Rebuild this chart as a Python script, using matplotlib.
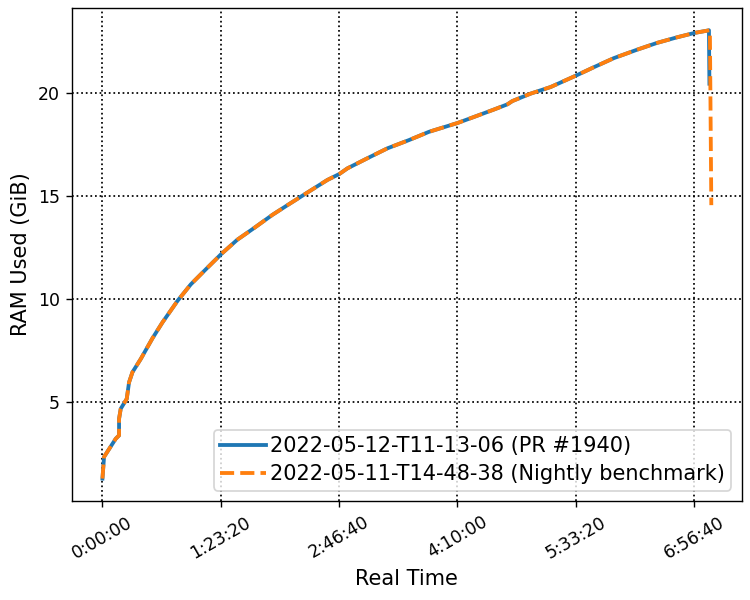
import datetime
import matplotlib
matplotlib.use("Agg")
import matplotlib.pyplot as plt
from matplotlib.ticker import FuncFormatter, MultipleLocator

# Shared ramp (seconds, GiB)
t_common = [0, 68, 562, 702, 702, 773, 1027, 1125, 1268, 1619, 2113, 2536, 3170,
            3732, 4438, 5030, 5706, 6408, 7185, 7959, 8733, 9510, 10017, 10355,
            11200, 12046, 12959, 13804, 15017, 15706, 16551, 17118, 17329, 18102,
            18948, 19510, 20034, 20777, 21623, 22611, 23457, 24302, 25034, 25570]
v_common = [1.31, 2.36, 3.24, 3.40, 4.20, 4.69, 5.17, 5.97, 6.46, 7.10, 8.10, 8.87, 9.91,
            10.71, 11.52, 12.19, 12.88, 13.44, 14.08, 14.65, 15.21, 15.77, 16.06, 16.33,
            16.82, 17.30, 17.70, 18.10, 18.53, 18.82, 19.18, 19.43, 19.59, 19.95,
            20.27, 20.56, 20.83, 21.23, 21.67, 22.08, 22.41, 22.68, 22.89, 23.00]

# Tails
t_pr_tail = [25640, 25660]
v_pr_tail = [23.02, 20.43]
t_nightly_tail = [25680, 25740]
v_nightly_tail = [23.02, 14.55]

label_pr = "2022-05-12-T11-13-06 (PR #1940)"
label_nightly = "2022-05-11-T14-48-38 (Nightly benchmark)"

t_pr = t_common + t_pr_tail
v_pr = v_common + v_pr_tail
t_n = t_common + t_nightly_tail
v_n = v_common + v_nightly_tail

fig = plt.figure(figsize=(6, 4.8), dpi=125)
ax = fig.add_axes([0.096, 0.165, 0.893, 0.822])
ax.plot(t_pr, v_pr, color="#1f77b4", lw=2.2, label=label_pr)
ax.plot(t_n, v_n, color="#ff7f0e", lw=2.2, ls="--", label=label_nightly)

ax.xaxis.set_major_locator(MultipleLocator(5000))
ax.xaxis.set_major_formatter(FuncFormatter(lambda x, p: str(datetime.timedelta(seconds=int(round(x))))))
ax.yaxis.set_major_locator(MultipleLocator(5))
ax.grid(True, color="black", ls=":", lw=1.0)
plt.setp(ax.get_xticklabels(), rotation=30)
ax.set_xlabel("Real Time", fontsize=12)
ax.set_ylabel("RAM Used (GiB)", fontsize=12)
ax.legend(loc="lower right", fontsize=12, handletextpad=0.2, borderpad=0.3,
          handlelength=2.2, labelspacing=0.4)

fig.savefig("out.png", dpi=125)
